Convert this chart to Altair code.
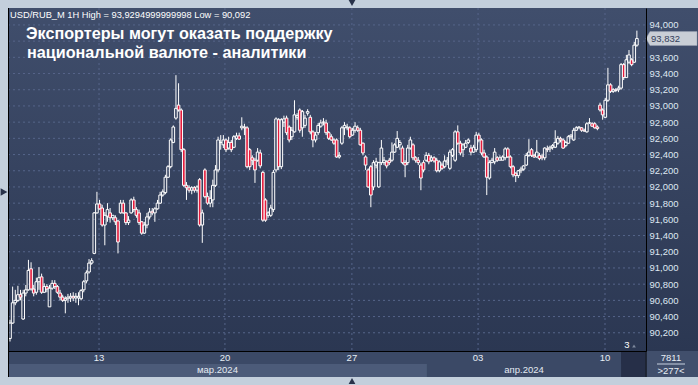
import altair as alt
import pandas as pd

# ---------------- data ----------------
opens = [90.13, 90.32, 90.57, 90.60, 90.67, 90.37, 90.69, 90.73, 90.99, 90.74,
         90.70, 90.83, 90.89, 90.70, 90.77, 90.52, 90.75, 90.81, 90.77, 90.69,
         90.64, 90.60, 90.62, 90.63, 90.65, 90.63, 90.63, 90.62, 90.73, 90.84,
         90.95, 91.06, 91.18, 91.68, 91.79, 91.74, 91.53, 91.64, 91.68, 91.62,
         91.62, 91.58, 91.68, 91.80, 91.68, 91.56, 91.68, 91.84, 91.72, 91.68,
         91.57, 91.43, 91.53, 91.63, 91.70, 91.68, 91.73, 91.80, 91.90, 91.93,
         92.12, 92.25, 92.55, 92.85, 93.01, 92.95, 92.46, 92.02, 91.99, 91.96,
         91.99, 91.96, 92.09, 91.53, 92.21, 91.88, 91.80, 91.84, 92.02, 92.21,
         92.55, 92.52, 92.58, 92.48, 92.55, 92.49, 92.60, 92.63, 92.73, 92.74,
         92.73, 92.46, 92.36, 92.33, 92.33, 92.42, 92.18, 91.84, 91.65, 91.65,
         91.72, 92.21, 92.83, 92.25, 92.80, 92.85, 92.74, 92.62, 92.68, 92.86,
         92.95, 92.73, 92.76, 92.91, 92.86, 92.68, 92.58, 92.67, 92.75, 92.80,
         92.79, 92.67, 92.62, 92.58, 92.58, 92.37, 92.54, 92.73, 92.73, 92.73,
         92.64, 92.70, 92.73, 92.70, 92.54, 92.37, 92.21, 92.25, 92.00, 92.27,
         92.00, 92.30, 92.30, 92.31, 92.33, 92.33, 92.43, 92.49, 92.52, 92.48,
         92.30, 92.30, 92.48, 92.52, 92.36, 92.33, 92.27, 92.30, 92.33, 92.39,
         92.33, 92.36, 92.33, 92.20, 92.27, 92.25, 92.31, 92.23, 92.39, 92.33,
         92.68, 92.54, 92.46, 92.49, 92.55, 92.48, 92.43, 92.46, 92.64, 92.58,
         92.42, 92.37, 92.11, 92.30, 92.31, 92.36, 92.33, 92.33, 92.36, 92.47,
         92.37, 92.25, 92.17, 92.14, 92.20, 92.22, 92.27, 92.39, 92.46, 92.39,
         92.37, 92.39, 92.38, 92.36, 92.47, 92.47, 92.49, 92.49, 92.54, 92.60,
         92.58, 92.51, 92.54, 92.62, 92.58, 92.70, 92.73, 92.73, 92.70, 92.68,
         92.79, 92.78, 92.78, 92.74, 93.01, 92.95, 92.86, 93.07, 93.26, 93.18,
         93.20, 93.20, 93.22, 93.51, 93.35, 93.54, 93.57, 93.54, 93.75]
highs = [90.36, 90.77, 90.73, 90.78, 90.73, 90.73, 90.79, 91.10, 91.07, 90.79,
         90.88, 91.01, 90.93, 90.81, 90.80, 90.79, 90.85, 90.85, 90.79, 90.73,
         90.67, 90.65, 90.68, 90.69, 90.70, 90.69, 90.70, 90.74, 90.85, 90.97,
         91.11, 91.12, 91.69, 91.94, 91.84, 91.78, 91.69, 91.80, 91.74, 91.65,
         91.65, 91.59, 91.84, 91.84, 91.69, 91.64, 91.86, 91.88, 91.75, 91.72,
         91.58, 91.57, 91.68, 91.74, 91.74, 91.75, 91.84, 91.94, 91.97, 92.15,
         92.27, 92.60, 92.76, 93.38, 93.28, 92.97, 92.48, 92.06, 92.02, 92.01,
         92.01, 92.02, 92.11, 91.72, 92.23, 91.93, 91.96, 92.09, 92.27, 92.62,
         92.64, 92.64, 92.60, 92.62, 92.58, 92.64, 92.67, 92.67, 92.86, 92.78,
         92.75, 92.48, 92.39, 92.36, 92.48, 92.46, 92.20, 91.86, 91.70, 91.78,
         92.21, 92.86, 92.85, 92.85, 92.88, 92.88, 92.76, 92.74, 93.07, 92.91,
         92.97, 92.95, 92.89, 92.96, 92.89, 92.70, 92.68, 92.79, 92.83, 92.85,
         92.83, 92.69, 92.65, 92.60, 92.60, 92.43, 92.75, 92.80, 92.78, 92.75,
         92.73, 92.80, 92.76, 92.73, 92.55, 92.39, 92.23, 92.27, 92.33, 92.36,
         92.31, 92.58, 92.37, 92.33, 92.36, 92.55, 92.54, 92.69, 92.58, 92.51,
         92.33, 92.52, 92.62, 92.54, 92.38, 92.37, 92.30, 92.33, 92.43, 92.42,
         92.39, 92.38, 92.36, 92.33, 92.30, 92.39, 92.37, 92.46, 92.48, 92.70,
         92.76, 92.57, 92.54, 92.58, 92.60, 92.52, 92.52, 92.68, 92.67, 92.60,
         92.46, 92.39, 92.33, 92.36, 92.48, 92.38, 92.39, 92.39, 92.49, 92.49,
         92.39, 92.27, 92.18, 92.21, 92.25, 92.27, 92.42, 92.59, 92.48, 92.41,
         92.58, 92.42, 92.41, 92.49, 92.51, 92.51, 92.53, 92.70, 92.63, 92.62,
         92.60, 92.57, 92.64, 92.65, 92.73, 92.75, 92.75, 92.74, 92.72, 92.80,
         92.85, 92.80, 92.80, 92.76, 93.04, 92.97, 93.10, 93.47, 93.28, 93.22,
         93.22, 93.25, 93.53, 93.53, 93.63, 93.69, 93.59, 93.79, 93.9295]
lows = [90.092, 90.31, 90.54, 90.58, 90.60, 90.36, 90.65, 90.72, 90.72, 90.65,
        90.67, 90.73, 90.68, 90.69, 90.70, 90.52, 90.73, 90.74, 90.68, 90.60,
        90.58, 90.44, 90.57, 90.58, 90.59, 90.57, 90.54, 90.60, 90.70, 90.81,
        90.93, 91.04, 91.17, 91.67, 91.72, 91.51, 91.28, 91.57, 91.56, 91.59,
        91.53, 91.18, 91.67, 91.67, 91.53, 91.53, 91.67, 91.69, 91.62, 91.53,
        91.41, 91.42, 91.49, 91.60, 91.65, 91.57, 91.72, 91.79, 91.88, 91.91,
        92.11, 92.23, 92.54, 92.83, 92.93, 92.43, 92.00, 91.84, 91.93, 91.91,
        91.93, 91.93, 91.51, 91.31, 91.86, 91.78, 91.75, 91.75, 92.00, 92.18,
        92.46, 92.48, 92.43, 92.46, 92.43, 92.48, 92.58, 92.58, 92.70, 92.64,
        92.23, 92.21, 92.27, 92.05, 92.31, 92.23, 91.57, 91.57, 91.62, 91.63,
        91.69, 92.18, 92.21, 92.22, 92.74, 92.64, 92.55, 92.58, 92.67, 92.83,
        92.67, 92.62, 92.73, 92.88, 92.65, 92.49, 92.55, 92.64, 92.73, 92.76,
        92.64, 92.58, 92.57, 92.52, 92.36, 92.35, 92.52, 92.64, 92.70, 92.60,
        92.63, 92.67, 92.68, 92.51, 92.39, 92.21, 91.99, 91.75, 91.96, 92.23,
        91.99, 92.27, 92.27, 92.23, 92.27, 92.31, 92.42, 92.48, 92.46, 92.28,
        92.12, 92.27, 92.46, 92.33, 92.30, 92.27, 91.96, 92.18, 92.31, 92.28,
        92.31, 92.30, 92.18, 92.18, 92.21, 92.23, 92.27, 92.21, 92.37, 92.31,
        92.52, 92.39, 92.37, 92.48, 92.53, 92.39, 92.42, 92.43, 92.55, 92.39,
        92.36, 91.90, 92.09, 92.30, 92.28, 92.31, 92.33, 92.33, 92.33, 92.36,
        92.23, 92.12, 92.06, 92.11, 92.17, 92.20, 92.26, 92.37, 92.37, 92.36,
        92.36, 92.33, 92.33, 92.33, 92.43, 92.43, 92.46, 92.48, 92.52, 92.55,
        92.47, 92.49, 92.53, 92.59, 92.57, 92.69, 92.72, 92.68, 92.68, 92.67,
        92.78, 92.74, 92.72, 92.70, 92.93, 92.83, 92.85, 93.05, 93.16, 93.16,
        93.17, 93.17, 93.20, 93.32, 93.35, 93.52, 93.49, 93.53, 93.73]
closes = [90.32, 90.57, 90.60, 90.67, 90.64, 90.69, 90.73, 90.97, 90.74, 90.69,
          90.83, 90.88, 90.70, 90.77, 90.74, 90.75, 90.81, 90.77, 90.70, 90.64,
          90.60, 90.62, 90.64, 90.65, 90.63, 90.65, 90.65, 90.72, 90.83, 90.94,
          91.06, 91.09, 91.68, 91.79, 91.73, 91.53, 91.65, 91.72, 91.62, 91.65,
          91.57, 91.32, 91.80, 91.68, 91.56, 91.59, 91.84, 91.72, 91.65, 91.56,
          91.43, 91.53, 91.63, 91.69, 91.68, 91.73, 91.80, 91.90, 91.94, 92.12,
          92.25, 92.58, 92.74, 92.97, 92.95, 92.46, 92.02, 91.99, 91.96, 91.99,
          91.96, 92.00, 91.53, 91.68, 91.88, 91.80, 91.86, 92.02, 92.21, 92.58,
          92.55, 92.58, 92.46, 92.55, 92.46, 92.62, 92.63, 92.59, 92.75, 92.73,
          92.25, 92.25, 92.33, 92.21, 92.43, 92.26, 91.59, 91.59, 91.68, 91.74,
          92.18, 92.84, 92.25, 92.83, 92.84, 92.67, 92.58, 92.70, 92.89, 92.88,
          92.70, 92.93, 92.85, 92.93, 92.68, 92.58, 92.64, 92.76, 92.79, 92.80,
          92.67, 92.60, 92.58, 92.54, 92.37, 92.39, 92.73, 92.76, 92.74, 92.62,
          92.70, 92.75, 92.70, 92.52, 92.42, 92.27, 92.00, 91.90, 92.30, 92.31,
          92.30, 92.48, 92.33, 92.26, 92.30, 92.43, 92.52, 92.60, 92.55, 92.30,
          92.27, 92.48, 92.58, 92.36, 92.33, 92.30, 92.11, 92.21, 92.39, 92.31,
          92.36, 92.32, 92.20, 92.31, 92.23, 92.32, 92.33, 92.43, 92.46, 92.68,
          92.54, 92.42, 92.52, 92.54, 92.58, 92.43, 92.49, 92.64, 92.58, 92.42,
          92.37, 92.12, 92.30, 92.33, 92.43, 92.33, 92.36, 92.37, 92.47, 92.37,
          92.25, 92.15, 92.14, 92.20, 92.22, 92.26, 92.39, 92.43, 92.39, 92.37,
          92.43, 92.35, 92.36, 92.48, 92.46, 92.49, 92.51, 92.55, 92.60, 92.58,
          92.48, 92.55, 92.62, 92.64, 92.70, 92.73, 92.74, 92.70, 92.69, 92.78,
          92.79, 92.75, 92.73, 92.72, 92.95, 92.89, 93.07, 93.26, 93.18, 93.20,
          93.19, 93.22, 93.51, 93.35, 93.57, 93.63, 93.51, 93.75, 93.832]

price_ticks = [90.2, 90.4, 90.6, 90.8, 91.0, 91.2, 91.4, 91.6, 91.8, 92.0,
               92.2, 92.4, 92.6, 92.8, 93.0, 93.2, 93.4, 93.6, 93.8, 94.0]
day_labels = ["13", "20", "27", "03", "10"]
day_pos = [33.8, 81.6, 129.8, 177.7, 225.9]          # bar index of each day start
month_labels = ["мар.2024", "апр.2024"]
month_start = [-0.76, 158.3]
month_end = [158.3, 232.0]

info_text = "USD/RUB_M 1H High = 93,9294999999998 Low = 90,092"
title_lines = ["Экспортеры могут оказать поддержку", "национальной валюте - аналитики"]
bars_total = "7811"
bars_visible = ">277<"
marker_text = "3"

# ---------------- layout / style ----------------
W, H = 638, 343
FONT = "Liberation Sans"
FRAME = "#c3cfdc"

n = len(closes)
df = pd.DataFrame({"i": list(range(n)), "o": opens, "h": highs, "l": lows, "c": closes})
df["top"] = df[["o", "c"]].max(axis=1)
df["bot"] = df[["o", "c"]].min(axis=1)
df["dir"] = ["up" if c >= o else "down" for o, c in zip(opens, closes)]
df["xa"] = df["i"] - 0.5
df["xb"] = df["i"] + 0.5
last = df.tail(1)

# the label hidden behind the last-price tag is not printed
label_ticks = [t for t in price_ticks if abs(t - closes[-1]) >= 0.1]

xs = alt.Scale(domain=[-0.76, 241.46], nice=False, zero=False)
ys = alt.Scale(domain=[89.975, 94.209], nice=False, zero=False)
xax = alt.Axis(labels=False, ticks=False, grid=False, domain=True, domainColor="#000000",
               domainWidth=1, title=None, zindex=1, orient="bottom")
yax = alt.Axis(orient="right", values=label_ticks, ticks=False, grid=False, domain=True,
               domainColor="#000000", domainWidth=1, title=None, zindex=1,
               labelExpr="replace(format(datum.value, '.3f'), '.', ',')",
               labelColor="#dfe7f1", labelFont=FONT, labelFontSize=9.5, labelPadding=3)

one = pd.DataFrame({"k": [0]})

bg = alt.Chart(one).mark_rect(
    fill=alt.LinearGradient(gradient="linear",
                            stops=[alt.GradientStop(color="#404e6c", offset=0),
                                   alt.GradientStop(color="#2b3752", offset=1)],
                            x1=0, x2=0, y1=0, y2=1)
).encode(x=alt.value(0), x2=alt.value(690), y=alt.value(0), y2=alt.value(H))

bottom_row = alt.Chart(one).mark_rect(fill="#3b4966").encode(
    x=alt.value(0), x2=alt.value(638), y=alt.value(H), y2=alt.value(369))
right_box = alt.Chart(one).mark_rect(fill="#414f6c").encode(
    x=alt.value(638), x2=alt.value(690), y=alt.value(H), y2=alt.value(369))
dark_box = alt.Chart(one).mark_rect(fill="#262f48").encode(
    x=alt.value(613), x2=alt.value(637), y=alt.value(H + 1), y2=alt.value(369))

months_df = pd.DataFrame({"m": month_labels, "s": month_start, "e": month_end})
months_df["mid"] = (months_df["s"] + months_df["e"]) / 2
month_bands = alt.Chart(months_df).mark_rect().encode(
    x=alt.X("s:Q", scale=xs, axis=xax), x2="e:Q",
    y=alt.value(356), y2=alt.value(369),
    color=alt.Color("m:N", scale=alt.Scale(domain=month_labels, range=["#4c5b79", "#3b4966"]),
                    legend=None))
month_text = alt.Chart(months_df).mark_text(font=FONT, fontSize=9.5, color="#e4eaf2",
                                             baseline="middle").encode(
    x=alt.X("mid:Q", scale=xs, axis=xax), y=alt.value(362), text="m:N")

days_df = pd.DataFrame({"p": day_pos, "t": day_labels})
vgrid = alt.Chart(days_df).mark_rule(color="#56658a", strokeDash=[2, 3], strokeWidth=1).encode(
    x=alt.X("p:Q", scale=xs, axis=xax), y=alt.value(0), y2=alt.value(H))
day_text = alt.Chart(days_df).mark_text(font=FONT, fontSize=9.5, color="#e8eef5",
                                         baseline="middle").encode(
    x=alt.X("p:Q", scale=xs, axis=xax), y=alt.value(350), text="t:N")

hgrid = alt.Chart(pd.DataFrame({"v": price_ticks})).mark_rule(
    color="#56658a", strokeDash=[2, 3], strokeWidth=1).encode(
    y=alt.Y("v:Q", scale=ys, axis=yax), x=alt.value(0), x2=alt.value(W))

upper_wick = alt.Chart(df).mark_rule(color="#ffffff", strokeWidth=1).encode(
    x=alt.X("i:Q", scale=xs, axis=xax), y=alt.Y("h:Q", scale=ys, axis=yax), y2="top:Q")
lower_wick = alt.Chart(df).mark_rule(color="#ffffff", strokeWidth=1).encode(
    x=alt.X("i:Q", scale=xs, axis=xax), y=alt.Y("bot:Q", scale=ys, axis=yax), y2="l:Q")
bodies = alt.Chart(df).mark_rect(stroke="#ffffff", strokeWidth=1).encode(
    x=alt.X("xa:Q", scale=xs, axis=xax), x2="xb:Q",
    y=alt.Y("o:Q", scale=ys, axis=yax), y2="c:Q",
    fill=alt.Fill("dir:N", scale=alt.Scale(domain=["up", "down"], range=["transparent", "#e41b3c"]),
                  legend=None))

left_border = alt.Chart(one).mark_rule(color="#000000", strokeWidth=1).encode(
    x=alt.value(0.5), y=alt.value(0), y2=alt.value(369))
sep_line = alt.Chart(one).mark_rule(color="#000000", strokeWidth=1).encode(
    x=alt.value(638), y=alt.value(H), y2=alt.value(369))

tag_shape = "M -1.04 0 L -0.88 -0.28 L 1 -0.28 L 1 0.28 L -0.88 0.28 Z"
price_tag = alt.Chart(last).mark_point(shape=tag_shape, size=2500, filled=True, opacity=1,
                                       fill="#c9ced6", stroke="#9aa3b3", strokeWidth=0.5).encode(
    x=alt.value(664), y=alt.Y("c:Q", scale=ys, axis=yax))
price_text = alt.Chart(last).transform_calculate(
    lbl="replace(format(datum.c, '.3f'), '.', ',')"
).mark_text(font=FONT, fontSize=9.5, color="#33405a", align="left", baseline="middle").encode(
    x=alt.value(643), y=alt.Y("c:Q", scale=ys, axis=yax), text="lbl:N")

info = alt.Chart(pd.DataFrame({"t": [info_text]})).mark_text(
    font=FONT, fontSize=9.3, color="#ffffff", align="left", baseline="alphabetic").encode(
    x=alt.value(2), y=alt.value(10), text="t:N")
title1 = alt.Chart(pd.DataFrame({"t": [title_lines[0]]})).mark_text(
    font=FONT, fontSize=16.2, fontWeight="bold", color="#ffffff", align="left",
    baseline="alphabetic").encode(x=alt.value(18), y=alt.value(31), text="t:N")
title2 = alt.Chart(pd.DataFrame({"t": [title_lines[1]]})).mark_text(
    font=FONT, fontSize=16.2, fontWeight="bold", color="#ffffff", align="left",
    baseline="alphabetic").encode(x=alt.value(19), y=alt.value(50), text="t:N")

marker = alt.Chart(pd.DataFrame({"t": [marker_text]})).mark_text(
    font=FONT, fontSize=9.5, color="#ffffff", baseline="middle").encode(
    x=alt.value(619), y=alt.value(337), text="t:N")
marker_tri = alt.Chart(one).mark_point(shape="triangle-up", size=14, filled=True, opacity=1,
                                       color="#7d889c").encode(x=alt.value(626), y=alt.value(338))
total_txt = alt.Chart(pd.DataFrame({"t": [bars_total]})).mark_text(
    font=FONT, fontSize=9.5, color="#e8eef5", baseline="middle").encode(
    x=alt.value(663), y=alt.value(349.5), text="t:N")
vis_txt = alt.Chart(pd.DataFrame({"t": [bars_visible]})).mark_text(
    font=FONT, fontSize=9.5, color="#e8eef5", baseline="middle").encode(
    x=alt.value(663), y=alt.value(362.5), text="t:N")
box_line = alt.Chart(one).mark_rule(color="#c8d2e0", strokeWidth=1).encode(
    x=alt.value(649), x2=alt.value(677), y=alt.value(356))

tri_top = alt.Chart(one).mark_point(shape="triangle-down", size=45, filled=True, opacity=1,
                                    color="#28324a").encode(x=alt.value(344), y=alt.value(-5))
tri_bot = alt.Chart(one).mark_point(shape="triangle-up", size=45, filled=True, opacity=1,
                                    color="#28324a").encode(x=alt.value(344), y=alt.value(373))
tri_left = alt.Chart(one).mark_point(shape="triangle-right", size=60, filled=True, opacity=1,
                                     color="#28324a").encode(x=alt.value(-4), y=alt.value(184))

chart = alt.layer(
    bg, bottom_row, right_box, dark_box, month_bands, month_text,
    hgrid, vgrid, day_text,
    upper_wick, lower_wick, bodies,
    left_border, sep_line,
    info, title1, title2, marker, marker_tri, total_txt, vis_txt, box_line,
    tri_top, tri_bot, tri_left,
    price_tag, price_text,
).properties(
    width=W, height=H,
    padding={"left": 8, "top": 8, "right": 52, "bottom": 34},
    autosize=alt.AutoSizeParams(type="none"),
    background=FRAME,
).configure_view(stroke=None)

chart.save("out.html", embed_options={"renderer": "svg", "actions": False})
